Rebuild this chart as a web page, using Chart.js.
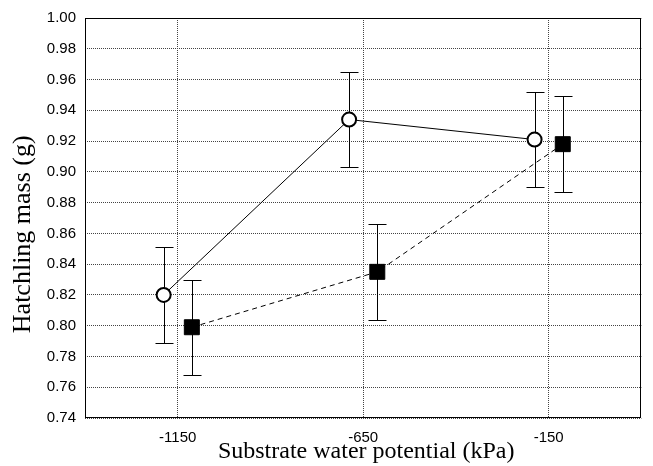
<!DOCTYPE html>
<html>
<head>
<meta charset="utf-8">
<script src="https://cdn.jsdelivr.net/npm/chart.js@4.4.0/dist/chart.umd.min.js"></script>
<style>
  html, body { margin: 0; padding: 0; background: #fff; }
  #wrap { width: 653px; height: 466px; }
</style>
</head>
<body>
<div id="wrap"><canvas id="c" width="653" height="466"></canvas></div>
<script>
// ---- data ----
const waterPotential = [-1150, -650, -150];          // x categories (kPa)
const xTickLabels = ['-1150', '-650', '-150'];
const circleMass = [0.820, 0.934, 0.921];            // open circles
const circleErr  = [0.031, 0.031, 0.031];
const squareMass = [0.799, 0.835, 0.918];            // filled squares
const squareErr  = [0.031, 0.031, 0.031];
const yTickValues = [0.74,0.76,0.78,0.80,0.82,0.84,0.86,0.88,0.90,0.92,0.94,0.96,0.98,1.00];

// horizontal dodge of the two series (in axis units), a display choice
const DODGE = 38;

const circlePts = waterPotential.map((x, i) => ({x: x - DODGE, y: circleMass[i], e: circleErr[i]}));
const squarePts = waterPotential.map((x, i) => ({x: x + DODGE, y: squareMass[i], e: squareErr[i]}));

const errorBars = {
  id: 'errorBars',
  beforeDatasetsDraw(chart) {
    const {ctx, scales: {x, y}} = chart;
    ctx.save();
    ctx.strokeStyle = '#000';
    ctx.lineWidth = 1;
    chart.data.datasets.forEach(ds => {
      ds.data.forEach(p => {
        const px = Math.round(x.getPixelForValue(p.x)) + 0.5;
        const yt = Math.round(y.getPixelForValue(p.y + p.e)) + 0.5;
        const yb = Math.round(y.getPixelForValue(p.y - p.e)) + 0.5;
        ctx.beginPath();
        ctx.moveTo(px, yt); ctx.lineTo(px, yb);
        ctx.moveTo(px - 9, yt); ctx.lineTo(px + 9, yt);
        ctx.moveTo(px - 9, yb); ctx.lineTo(px + 9, yb);
        ctx.stroke();
      });
    });
    ctx.restore();
  }
};

const frame = {
  id: 'frame',
  afterDraw(chart) {
    const {ctx, chartArea: a} = chart;
    ctx.save();
    ctx.strokeStyle = '#000';
    ctx.lineWidth = 1;
    ctx.strokeRect(Math.round(a.left) + 0.5, Math.round(a.top) + 0.5,
                   Math.round(a.right - a.left) - 1, Math.round(a.bottom - a.top) - 1);
    ctx.restore();
  }
};

new Chart(document.getElementById('c'), {
  type: 'line',
  data: {
    datasets: [
      {
        data: circlePts,
        borderColor: '#000', borderWidth: 1,
        pointStyle: 'circle', pointRadius: 7, pointHoverRadius: 7,
        pointBackgroundColor: '#fff', pointBorderColor: '#000', pointBorderWidth: 2,
        fill: false, tension: 0
      },
      {
        data: squarePts,
        borderColor: '#000', borderWidth: 1, borderDash: [5, 4],
        pointStyle: 'rect', pointRadius: 10.6, pointHoverRadius: 10.6,
        pointBackgroundColor: '#000', pointBorderColor: '#000', pointBorderWidth: 1,
        fill: false, tension: 0
      }
    ]
  },
  options: {
    responsive: false,
    animation: false,
    devicePixelRatio: 1,
    layout: { padding: { top: 11, right: 4, left: 0, bottom: 0 } },
    plugins: { legend: { display: false }, tooltip: { enabled: false } },
    scales: {
      x: {
        type: 'linear', min: -1400, max: 100,
        afterBuildTicks(s) { s.ticks = waterPotential.map(v => ({value: v})); },
        afterFit(s) { s.height = 48; },
        ticks: {
          color: '#000', padding: 11, maxRotation: 0,
          font: { family: 'Liberation Sans', size: 15 },
          callback: (v) => xTickLabels[waterPotential.indexOf(v)]
        },
        grid: { color: '#444', lineWidth: 1, drawTicks: false },
        border: { display: false, dash: [1, 1] },
        title: {
          display: true, text: ' Substrate water potential (kPa)', color: '#000',
          font: { family: 'Liberation Serif', size: 24 }, padding: { top: 0, bottom: 0 }
        }
      },
      y: {
        min: 0.74, max: 1.00,
        afterBuildTicks(s) { s.ticks = yTickValues.map(v => ({value: v})); },
        afterFit(s) { s.width = 85; },
        ticks: {
          color: '#000', padding: 9,
          font: { family: 'Liberation Sans', size: 15 },
          callback: (v) => Number(v).toFixed(2)
        },
        grid: { color: '#444', lineWidth: 1, drawTicks: false },
        border: { display: false, dash: [1, 1] },
        title: {
          display: true, text: 'Hatchling mass (g)     ', color: '#000',
          font: { family: 'Liberation Serif', size: 26 }, padding: { top: 8, bottom: 0 }
        }
      }
    }
  },
  plugins: [errorBars, frame]
});
</script>
</body>
</html>
